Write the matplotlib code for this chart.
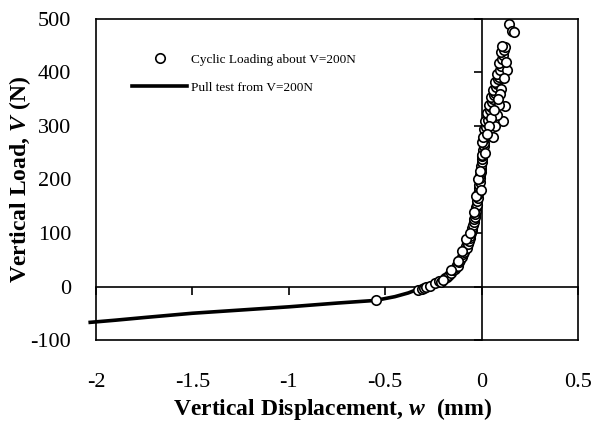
import matplotlib
matplotlib.use('Agg')
import matplotlib.pyplot as plt
import numpy as np

plt.rcParams['font.family'] = ['Liberation Serif', 'DejaVu Serif']
plt.rcParams['axes.unicode_minus'] = False
plt.rcParams['mathtext.fontset'] = 'custom'
plt.rcParams['mathtext.rm'] = 'Liberation Serif:bold'
plt.rcParams['mathtext.it'] = 'Liberation Serif:italic:bold'
plt.rcParams['mathtext.bf'] = 'Liberation Serif:bold'

# pull test from V=200N (w in mm, V in N)
pull_w = [-2.03, -1.9, -1.75, -1.5, -1.25, -1.0, -0.75, -0.55, -0.45, -0.38, -0.33, -0.30,
          -0.25, -0.20, -0.15, -0.10, -0.07, -0.05, -0.03, -0.02, -0.01, 0.0]
pull_v = [-67, -63, -58, -50, -44, -38, -31, -26, -19, -12, -5, 0,
          8, 17, 28, 45, 65, 90, 120, 150, 180, 200]

# cyclic loading about V=200N
cyc_w = [-0.55, -0.33, -0.31, -0.30, -0.29, -0.27, -0.24, -0.22, -0.21, -0.19, -0.18, -0.17,
         -0.16, -0.15, -0.14, -0.135, -0.13, -0.12, -0.115, -0.11, -0.10, -0.095, -0.09, -0.085,
         -0.08, -0.075, -0.07, -0.065, -0.06, -0.058, -0.055, -0.05, -0.048, -0.045, -0.04, -0.038,
         -0.035, -0.032, -0.03, -0.028, -0.025, -0.022, -0.02, -0.018, -0.016, -0.015, -0.012, -0.01,
         -0.008, -0.006, -0.005, -0.004, -0.002, 0.0, 0.002, 0.004, 0.006, 0.008, 0.01,
         -0.2, -0.16, -0.12, -0.1, -0.08, -0.06, -0.04, -0.03, -0.02, -0.01, -0.005, 0.0,
         0.012, 0.015, 0.018, 0.02, 0.01, 0.025, 0.03, 0.02, 0.035, 0.04, 0.028, 0.045,
         0.05, 0.038, 0.055, 0.06, 0.048, 0.065, 0.07, 0.058, 0.075, 0.08, 0.068, 0.085,
         0.09, 0.078, 0.095, 0.1, 0.088, 0.105, 0.11, 0.1, 0.115, 0.12, 0.105, 0.14,
         0.16, 0.17, 0.12, 0.13, 0.11, 0.02, 0.0, 0.005, 0.09, 0.07, 0.08, 0.06,
         0.1, 0.115, 0.125, 0.095, 0.085, 0.05, 0.04, 0.03, 0.065]
cyc_v = [-25, -6, -4, -3, -1, 1, 6, 10, 9, 15, 18, 22,
         26, 30, 33, 36, 40, 38, 45, 50, 55, 60, 64, 70,
         75, 72, 80, 85, 90, 95, 100, 105, 110, 115, 120, 126,
         130, 136, 142, 148, 153, 160, 166, 172, 178, 185, 190, 196,
         202, 208, 214, 220, 226, 232, 238, 244, 250, 256, 262,
         12, 30, 48, 66, 88, 100, 140, 170, 200, 215, 180, 245,
         268, 275, 282, 290, 295, 298, 305, 310, 312, 320, 325, 330,
         335, 340, 345, 350, 355, 358, 362, 368, 372, 378, 382, 388,
         392, 398, 405, 412, 418, 425, 432, 438, 442, 447, 450, 490,
         478, 476, 338, 405, 310, 250, 270, 280, 340, 300, 320, 280,
         370, 390, 420, 360, 350, 315, 300, 285, 330]

x_ticks = [-2, -1.5, -1, -0.5, 0, 0.5]
x_ticklabels = ['-2', '-1.5', '-1', '-0.5', '0', '0.5']
y_ticks = [-100, 0, 100, 200, 300, 400, 500]

fig = plt.figure(figsize=(6.05, 4.23), dpi=100)
pos = [96 / 605, 83 / 423, 482 / 605, 321 / 423]

# axes crossing at zero, with the small tick marks
axc = fig.add_axes(pos)
axc.set_xlim(-2, 0.5)
axc.set_ylim(-100, 500)
for s in ['top', 'right']:
    axc.spines[s].set_visible(False)
axc.spines['left'].set_position(('data', 0))
axc.spines['bottom'].set_position(('data', 0))
axc.spines['left'].set_linewidth(1.2)
axc.spines['bottom'].set_linewidth(1.2)
axc.set_xticks(x_ticks)
axc.set_yticks(y_ticks)
axc.tick_params(direction='out', length=6, width=1.2, labelleft=False, labelbottom=False)

# main axes: frame, data, labels
ax = fig.add_axes(pos)
ax.patch.set_visible(False)
ax.set_xlim(-2, 0.5)
ax.set_ylim(-100, 500)
for s in ax.spines.values():
    s.set_linewidth(1.2)

ax.plot(pull_w, pull_v, color='black', linewidth=2.6, clip_on=False, zorder=2,
        label='Pull test from V=200N')
ax.plot(cyc_w, cyc_v, linestyle='None', marker='o', markersize=6.8, markerfacecolor='white',
        markeredgecolor='black', markeredgewidth=1.2, zorder=3, clip_on=False,
        label='Cyclic Loading about V=200N')

ax.set_xticks(x_ticks)
ax.set_xticklabels(x_ticklabels)
ax.set_yticks(y_ticks)
ax.tick_params(length=0, labelsize=16)
ax.tick_params(axis='x', pad=24)
ax.tick_params(axis='y', pad=18)

ax.set_xlabel('Vertical Displacement, $\\mathit{w}$  (mm)', fontsize=17, fontweight='bold')
ax.set_ylabel('Vertical Load, $\\mathit{V}$ (N)', fontsize=17, fontweight='bold')
ax.xaxis.set_label_coords(0.49, -0.175)
ax.yaxis.set_label_coords(-0.13, 0.5)

handles, labels = ax.get_legend_handles_labels()
lgd = ax.legend(handles[::-1], labels[::-1], loc='upper left', bbox_to_anchor=(0.05, 0.93),
                frameon=False, fontsize=9.5, handlelength=4.2, labelspacing=1.2, numpoints=1,
                handletextpad=0.3)

fig.savefig('out.png', dpi=100)
plt.close(fig)
